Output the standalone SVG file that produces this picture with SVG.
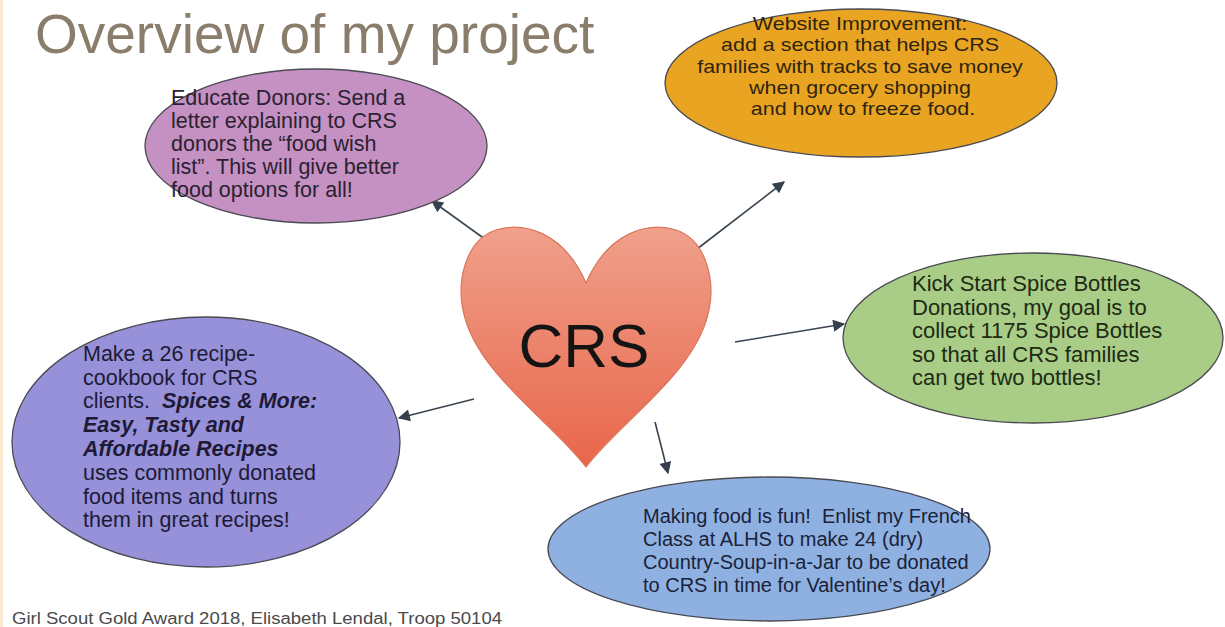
<svg xmlns="http://www.w3.org/2000/svg" width="1225" height="627" viewBox="0 0 1225 627">
  <style>
    .t { font-family: "Liberation Sans", Arial, sans-serif; }
    .bubble { stroke: #4a4a52; stroke-width: 1.3; }
    .conn { stroke: #3a4450; stroke-width: 1.6; fill: none; marker-end: url(#head); }
    .bi { font-weight: bold; font-style: italic; }
  </style>
  <defs>
    <marker id="head" viewBox="0 0 10 10" refX="9" refY="5" markerWidth="14" markerHeight="12" markerUnits="userSpaceOnUse" orient="auto">
      <path d="M0,0 L10,5 L0,10 Z" fill="#34404c"/>
    </marker>
    <linearGradient id="heartFill" x1="0" y1="0" x2="0" y2="1">
      <stop offset="0" stop-color="#f0a08c"/>
      <stop offset="1" stop-color="#e8664a"/>
    </linearGradient>
  </defs>

  <rect width="1225" height="627" fill="#ffffff"/>
  <rect x="0" y="0" width="3" height="627" fill="#fbe9cf"/>

  <!-- title -->
  <text class="t" x="35" y="53" font-size="55" fill="#8b7d6c">Overview of my project</text>

  <!-- connectors -->
  <g id="connectors">
    <line class="conn" x1="489" y1="242" x2="432" y2="201"/>
    <line class="conn" x1="697" y1="249" x2="784" y2="182"/>
    <line class="conn" x1="735" y1="342" x2="844" y2="324"/>
    <line class="conn" x1="474" y1="399" x2="399" y2="418"/>
    <line class="conn" x1="655" y1="422" x2="668" y2="473"/>
  </g>

  <!-- center heart -->
  <g id="crs">
    <path d="M586,283 C563,230 522,222 496,230 C465,240 457,282 463,310 C475,372 550,420 586,467 C622,420 697,372 709,310 C715,282 707,240 676,230 C650,222 609,230 586,283 Z" fill="url(#heartFill)" stroke="#d8765c" stroke-width="1.2"/>
    <text class="t" x="584" y="367" font-size="62" fill="#141414" text-anchor="middle">CRS</text>
  </g>

  <!-- educate donors -->
  <g id="donors">
    <ellipse class="bubble" cx="316" cy="146" rx="171" ry="77" fill="#c590c2"/>
    <text class="t" font-size="21.5" fill="#2a2230">
      <tspan x="171" y="105">Educate Donors: Send a</tspan>
      <tspan x="171" y="128">letter explaining to CRS</tspan>
      <tspan x="171" y="151">donors the “food wish</tspan>
      <tspan x="171" y="174">list”. This will give better</tspan>
      <tspan x="171" y="197">food options for all!</tspan>
    </text>
  </g>

  <!-- website -->
  <g id="website">
    <ellipse class="bubble" cx="861" cy="83" rx="196" ry="74" fill="#e9a522"/>
    <text class="t" font-size="19" fill="#2f2410" text-anchor="middle" transform="translate(863,0) scale(1.13,1)">
      <tspan x="0" y="30">Website Improvement:</tspan>
      <tspan x="0" y="51.5">add a section that helps CRS</tspan>
      <tspan x="0" y="73">families with tracks to save money</tspan>
      <tspan x="0" y="94">when grocery shopping</tspan>
      <tspan x="0" y="115">and how to freeze food.</tspan>
    </text>
  </g>

  <!-- spice bottles -->
  <g id="spice">
    <ellipse class="bubble" cx="1033" cy="338" rx="190" ry="85" fill="#a9cd86"/>
    <text class="t" font-size="22" fill="#1d2a14">
      <tspan x="912" y="291">Kick Start Spice Bottles</tspan>
      <tspan x="912" y="314.5">Donations, my goal is to</tspan>
      <tspan x="912" y="338">collect 1175 Spice Bottles</tspan>
      <tspan x="912" y="361.5">so that all CRS families</tspan>
      <tspan x="912" y="385">can get two bottles!</tspan>
    </text>
  </g>

  <!-- cookbook -->
  <g id="cookbook">
    <ellipse class="bubble" cx="206" cy="442" rx="194" ry="125" fill="#9691d8"/>
    <text class="t" font-size="21.5" fill="#1e1a36">
      <tspan x="83" y="361">Make a 26 recipe-</tspan>
      <tspan x="83" y="384.5">cookbook for CRS</tspan>
      <tspan x="83" y="408">clients.&#160; <tspan class="bi">Spices &amp; More:</tspan></tspan>
      <tspan x="83" y="432" class="bi">Easy, Tasty and</tspan>
      <tspan x="83" y="456" class="bi">Affordable Recipes</tspan>
      <tspan x="83" y="480">uses commonly donated</tspan>
      <tspan x="83" y="503.5">food items and turns</tspan>
      <tspan x="83" y="527">them in great recipes!</tspan>
    </text>
  </g>

  <!-- soup jars -->
  <g id="soup">
    <ellipse class="bubble" cx="769" cy="549" rx="221" ry="72" fill="#8fb1e2"/>
    <text class="t" font-size="20" fill="#1a2238">
      <tspan x="643" y="523">Making food is fun!&#160; Enlist my French</tspan>
      <tspan x="643" y="546">Class at ALHS to make 24 (dry)</tspan>
      <tspan x="643" y="569">Country-Soup-in-a-Jar to be donated</tspan>
      <tspan x="643" y="592">to CRS in time for Valentine’s day!</tspan>
    </text>
  </g>

  <!-- footer -->
  <text class="t" x="12" y="624" font-size="16" fill="#4a4a4a" textLength="490" lengthAdjust="spacingAndGlyphs">Girl Scout Gold Award 2018, Elisabeth Lendal, Troop 50104</text>
</svg>
